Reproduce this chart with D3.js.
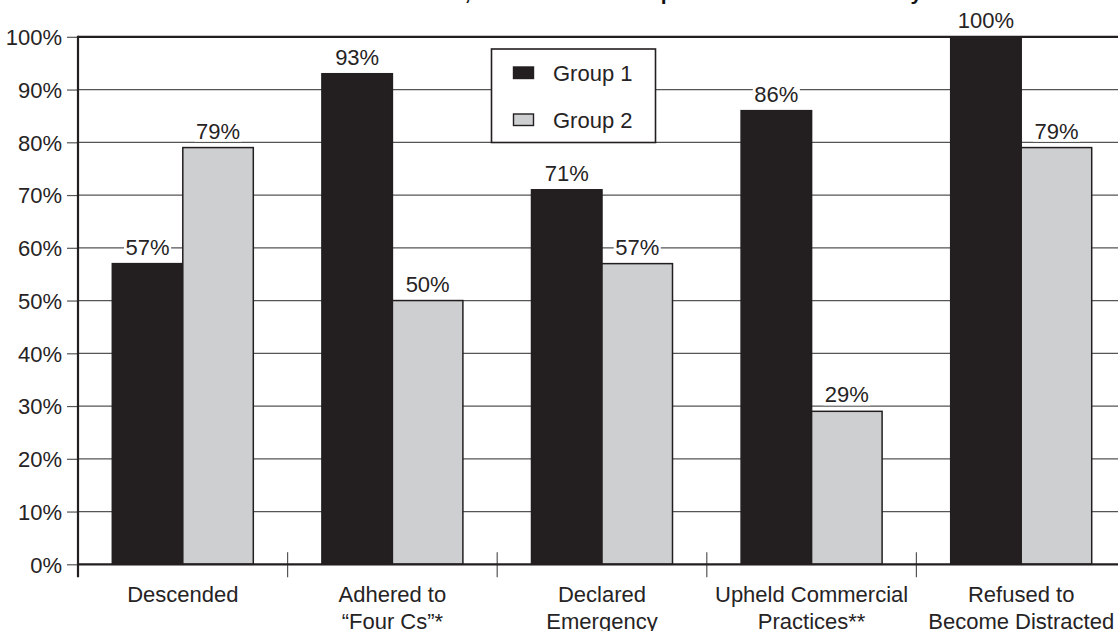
<!DOCTYPE html>
<html>
<head>
<meta charset="utf-8">
<script src="https://cdn.jsdelivr.net/npm/d3@7/dist/d3.min.js"></script>
<style>
  html, body { margin: 0; padding: 0; background: #fff; overflow: hidden; }
  svg { display: block; }
  text { font-family: "Liberation Sans", Arial, Helvetica, sans-serif; fill: #262324; }
</style>
</head>
<body>
<svg id="chart" width="1118" height="631"></svg>
<script>
// ---- data ----
const categories = [
  ["Descended"],
  ["Adhered to", "\u201CFour Cs\u201D*"],
  ["Declared", "Emergency"],
  ["Upheld Commercial", "Practices**"],
  ["Refused to", "Become Distracted"]
];
const seriesNames = ["Group 1", "Group 2"];
const group1 = [57, 93, 71, 86, 100];
const group2 = [79, 50, 57, 29, 79];
const yTicks = [0, 10, 20, 30, 40, 50, 60, 70, 80, 90, 100];
const titleText = "Lost Pilot Actions, Results from Group 1 and Control Lab Study";

// ---- layout ----
const W = 1118, H = 631;
const left = 78, bandW = 209.6;
const y0 = 564.3, y100 = 36.8;
const dark = "#231f20", light = "#cdcfd1", grid = "#555";

const svg = d3.select("#chart");
const keys = categories.map((c, i) => "c" + i);
const x = d3.scaleBand().domain(keys).range([left, left + bandW * keys.length]).padding(0);
const xg = d3.scaleBand().domain(seriesNames).range([34.3, bandW - 34.3]).padding(0);
const y = d3.scaleLinear().domain([0, 100]).range([y0, y100]);

// title (clipped at top, as in reference)
svg.append("text")
  .attr("x", 287).attr("y", 0)
  .attr("font-size", 21).attr("font-weight", "bold")
  .style("fill", "#111")
  .text(titleText);

// gridlines
svg.append("g").selectAll("line")
  .data(yTicks.filter(t => t > 0 && t < 100))
  .join("line")
  .attr("x1", left).attr("x2", W + 10)
  .attr("y1", d => y(d)).attr("y2", d => y(d))
  .attr("stroke", grid).attr("stroke-width", 1.2);

// top border (100%)
svg.append("line")
  .attr("x1", left).attr("x2", W + 10)
  .attr("y1", y(100)).attr("y2", y(100))
  .attr("stroke", dark).attr("stroke-width", 2.2);

// y axis
const yAxis = d3.axisLeft(y).tickValues(yTicks).tickSize(11).tickPadding(5)
  .tickFormat(d => d + "%");
const gy = svg.append("g").attr("transform", `translate(${left},0)`).call(yAxis);
gy.select(".domain").remove();
gy.selectAll(".tick line").attr("stroke", grid).attr("stroke-width", 1.2);
gy.selectAll(".tick text")
  .attr("font-size", 22)
  .attr("font-family", "Liberation Sans, Arial, sans-serif")
  .attr("dy", "0.36em")
  .style("fill", "#262324");

// x axis ticks at band boundaries
const boundaries = keys.map(k => x(k)).concat([x(keys[keys.length - 1]) + bandW]);
svg.append("g").selectAll("line")
  .data(boundaries.slice(1))
  .join("line")
  .attr("x1", d => d).attr("x2", d => d)
  .attr("y1", y0 - 12).attr("y2", y0 + 13)
  .attr("stroke", grid).attr("stroke-width", 1.2);

// bars
const gb = svg.append("g");
categories.forEach((c, i) => {
  const vals = [group1[i], group2[i]];
  vals.forEach((v, j) => {
    gb.append("rect")
      .attr("x", x(keys[i]) + xg(seriesNames[j]))
      .attr("y", y(v))
      .attr("width", xg.bandwidth())
      .attr("height", y(0) - y(v))
      .attr("fill", j === 0 ? dark : light)
      .attr("stroke", dark).attr("stroke-width", 1.5);
  });
});

// value labels with white knockout
const gl = svg.append("g");
categories.forEach((c, i) => {
  const vals = [group1[i], group2[i]];
  vals.forEach((v, j) => {
    const cx = x(keys[i]) + xg(seriesNames[j]) + xg.bandwidth() / 2;
    const by = y(v) - 9;
    const bg = gl.append("rect").attr("fill", "#fff");
    const t = gl.append("text")
      .attr("x", cx).attr("y", by)
      .attr("text-anchor", "middle")
      .attr("font-size", 22)
      .text(v + "%");
    const bb = t.node().getBBox();
    bg.attr("x", bb.x - 1.5).attr("y", by - 18).attr("width", bb.width + 3).attr("height", 21);
  });
});

// axis lines
svg.append("line")
  .attr("x1", left).attr("x2", W + 10)
  .attr("y1", y0).attr("y2", y0)
  .attr("stroke", dark).attr("stroke-width", 2.2);
svg.append("line")
  .attr("x1", left).attr("x2", left)
  .attr("y1", y100 - 1).attr("y2", y0 + 13)
  .attr("stroke", dark).attr("stroke-width", 2.2);

// x labels
const gx = svg.append("g");
categories.forEach((lines, i) => {
  const cx = x(keys[i]) + bandW / 2;
  const t = gx.append("text").attr("text-anchor", "middle").attr("font-size", 22);
  lines.forEach((ln, k) => {
    t.append("tspan").attr("x", cx).attr("y", 601.5 + k * 27).text(ln);
  });
});

// legend
const lg = svg.append("g");
lg.append("rect")
  .attr("x", 491.5).attr("y", 49).attr("width", 164).attr("height", 93.5)
  .attr("fill", "#fff").attr("stroke", dark).attr("stroke-width", 1.6);
seriesNames.forEach((s, j) => {
  const yy = j === 0 ? 67 : 114;
  lg.append("rect")
    .attr("x", 513.5).attr("y", yy).attr("width", 20).attr("height", 11.5)
    .attr("fill", j === 0 ? dark : light)
    .attr("stroke", dark).attr("stroke-width", 1.4);
  lg.append("text")
    .attr("x", 553).attr("y", yy + 13.5)
    .attr("font-size", 22)
    .text(s);
});
</script>
</body>
</html>
